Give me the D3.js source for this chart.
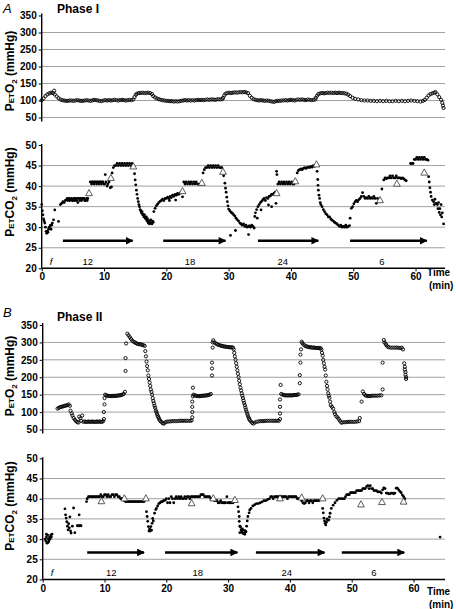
<!DOCTYPE html>
<html><head><meta charset="utf-8">
<script src="https://cdn.jsdelivr.net/npm/d3@7"></script>
<style>
html,body{margin:0;padding:0;background:#fff;}
svg{display:block;font-family:"Liberation Sans",Arial,sans-serif;}
</style></head>
<body><svg id="c" width="456" height="609"></svg>
<script>
// ---------- DATA (time in min, value in mmHg) as flat [t,v,t,v,...] lists ----------
const timeTicks = [0,10,20,30,40,50,60];
const o2Ticks = [50,100,150,200,250,300,350];
const co2Ticks = [20,25,30,35,40,45,50];
const rateLabels = ["12","18","24","6"];
const rateLabelTimesA = [7.4,23.8,38.7,54.6];
const rateLabelTimesB = [11.1,25.1,39.5,53.6];
const arrowsA = [[3.4,14.6],[19.5,29.5],[34.7,44.4],[49.5,61.8]];
const arrowsB = [[7.2,16.4],[19.8,31.5],[34.5,45.6],[48.4,58.5]];

const petO2_phase1 = [0,101,0.3,106,0.6,113,0.9,118,1.2,121,1.5,123,1.8,122,2.0,129,2.1,118,2.4,112,2.7,107,3.0,103,3.3,101,3.6,100,3.9,99,4.2,99,4.5,100,4.8,100,5.1,99,5.4,100,5.7,101,6.0,100,6.3,99,6.6,99,6.9,100,7.2,101,7.5,100,7.8,99,8.1,100,8.4,102,8.7,101,9.0,100,9.3,99,9.6,98,9.9,100,10.2,101,10.5,100,10.8,101,11.1,100,11.4,101,11.7,102,12.0,101,12.3,100,12.6,101,12.9,102,13.2,101,13.5,100,13.8,101,14.1,102,14.4,101,14.7,103,14.9,110,15.1,117,15.3,120,15.6,122,15.9,122,16.2,123,16.5,122,16.8,122,17.1,123,17.4,122,17.7,119,17.9,113,18.2,109,18.5,106,18.8,104,19.1,102,19.4,101,19.7,100,20.0,99,20.3,99,20.6,98,20.9,98,21.2,97,21.5,98,21.8,97,22.1,98,22.4,99,22.7,100,23.0,101,23.3,100,23.6,101,23.9,100,24.2,101,24.5,100,24.8,101,25.1,102,25.4,101,25.7,102,26.0,101,26.3,102,26.6,103,26.9,102,27.2,103,27.5,103,27.8,102,28.1,103,28.4,104,28.7,103,29.0,104,29.1,108,29.3,115,29.5,120,29.8,122,30.1,123,30.4,122,30.7,123,31.0,124,31.3,123,31.6,124,31.9,125,32.2,124,32.5,125,32.8,124,33.1,122,33.4,114,33.7,108,34.0,104,34.3,102,34.6,101,34.9,100,35.2,101,35.5,100,35.8,99,36.1,100,36.4,99,36.7,98,37.0,97,37.3,96,37.6,98,37.9,99,38.2,99,38.5,100,38.8,100,39.1,101,39.4,100,39.7,101,40.0,102,40.3,101,40.6,100,40.9,102,41.2,103,41.5,102,41.8,103,42.1,102,42.4,101,42.7,103,43.0,102,43.3,101,43.6,102,43.9,103,44.0,108,44.2,114,44.4,119,44.7,121,45.0,122,45.3,121,45.6,122,45.9,123,46.2,122,46.5,123,46.8,122,47.1,123,47.4,122,47.7,123,48.0,122,48.3,122,48.6,121,48.9,120,49.2,117,49.5,113,49.9,108,50.3,105,50.8,103,51.3,101,51.8,100,52.3,100,52.8,99,53.3,99,53.8,98,54.3,99,54.8,98,55.3,99,55.8,98,56.3,98,56.8,99,57.3,98,57.8,99,58.3,98,58.8,99,59.3,100,59.8,99,60.3,98,60.8,97,61.2,99,61.5,102,61.8,108,62.1,115,62.4,119,62.7,121,63.0,123,63.2,125,63.5,118,63.8,110,64.1,102,64.3,93,64.4,85,64.5,78];

const petCO2_phase1 = [0,35.5,0.1,34,0.2,33,0.3,32,0.4,31.5,0.5,31,0.6,30,0.7,29,0.8,28.5,0.9,29,1.0,28.8,1.1,29.5,1.2,30,1.3,29.8,1.4,30.5,1.5,29.5,1.6,30.5,1.7,31,1.9,31.8,2.1,34.2,2.7,31.4,
3.0,35.5,3.2,35.8,3.4,36.2,3.6,36,3.8,36.5,4.0,36.7,4.1,37,4.2,36.5,4.4,37,4.5,36.5,4.6,36.8,4.8,37,4.9,36.5,5.0,36.5,5.2,37,5.3,36.5,5.4,37,5.6,36.5,5.7,37,5.8,36,6.0,37,6.1,36.5,6.2,37,6.4,36.5,6.5,37,6.6,37,6.8,37,6.9,36.5,7.0,36.5,7.2,37,7.3,36.5,7.4,37,
7.8,41,8.0,40.5,8.1,41,8.2,41,8.4,40.5,8.5,41,8.6,41,8.8,40.5,8.9,41,9.0,41,9.2,40.5,9.3,41,9.4,41,9.6,40.5,9.7,41,9.8,41,10.0,40.5,10.1,40.5,10.2,42.8,10.3,41,10.5,40,10.6,40.5,10.8,41,11.0,39.6,11.2,39.8,
11.3,43.2,11.5,44.5,11.7,45,11.9,45,12.1,45.5,12.3,45,12.5,45.5,12.7,45,12.9,45.5,13.1,45,13.3,45.5,13.5,45,13.7,45.5,13.9,45,14.1,45.5,14.3,45,14.5,45.5,14.6,45,
14.9,43,15.0,41.5,15.1,40.3,15.2,39,15.3,38,15.4,37,15.5,36.2,15.6,35.5,15.7,35,15.8,34.3,15.9,34,16.0,33.5,16.1,33.8,16.2,33,16.3,33.2,16.4,32.5,16.5,33,16.6,32.3,16.7,32,16.8,32.5,16.9,31.5,17.0,32,17.1,31,17.2,31.5,17.3,30.8,17.4,31.2,17.5,31.8,17.6,31,17.7,30.8,17.8,31.5,17.9,31.2,
18.0,33.8,18.2,34.6,18.4,35.2,18.6,35.6,18.8,36,19.0,36.3,19.2,36.5,19.4,36.8,19.6,36.5,19.8,37,20.0,37,20.2,37.3,20.4,37,20.5,36.5,20.6,37.5,20.8,37.2,21.0,37.8,21.2,37.5,21.4,38,21.5,36.6,21.6,37.8,21.8,38.2,22.0,38,22.2,38.3,22.4,38.5,22.6,37.4,
22.8,41,23.0,40.5,23.2,41,23.4,40.5,23.6,41,23.8,40.5,24.0,41,24.2,40.5,24.4,41,24.6,40.5,24.8,41,25.0,40.5,25.2,40.5,25.4,40.5,
25.9,43.2,26.1,44,26.3,44.5,26.5,44.5,26.7,45,26.9,44.5,27.1,45,27.3,44.5,27.5,45,27.7,44.5,27.9,45,28.1,44.5,28.3,45,28.5,44.5,28.7,44.5,28.9,44.5,
29.2,42.5,29.4,40.7,29.5,39.5,29.6,38.5,29.7,37.3,29.8,36.2,29.9,35.2,30.0,34.4,30.2,34,30.3,28,30.4,33.6,30.6,33.4,30.8,33,31.0,32.7,31.1,29.2,31.2,32.2,31.4,31.8,31.6,31.5,31.8,31,32.0,30.8,32.2,30.5,32.4,30.8,32.6,30.2,32.8,30.5,33.0,30,33.2,28.2,33.3,30.3,33.5,30,33.7,30.5,33.9,30.2,34.1,29.8,
34.2,32.6,34.3,33.5,34.5,34.3,34.6,32.2,34.7,35,34.9,35.5,35.1,36,35.2,34.2,35.3,36.3,35.5,36.7,35.7,37,35.9,36.5,36.1,37.2,36.3,37,36.4,35.4,36.5,37.5,36.7,37.6,36.9,38,36.9,35,37.1,38,37.3,38.3,37.5,38.5,37.6,35.8,37.7,43.6,37.75,42.8,
37.9,40.5,38.1,41,38.3,40.5,38.5,41,38.7,40.5,38.9,41,39.1,40.5,39.3,41,39.5,40.5,39.7,41,39.9,40.5,40.1,41,40.3,40.5,40.5,40.5,
41.0,43.2,41.2,43.8,41.4,44,41.6,44.2,41.8,44,42.0,44.3,42.2,44.5,42.4,44.3,42.6,44.5,42.8,44.6,43.0,44.5,43.2,44.8,43.4,44.6,43.6,45,43.8,44.8,
44.2,43.6,44.3,41.6,44.35,40.2,44.4,39,44.5,37.8,44.6,37,44.7,36,44.8,35.5,45.0,35,45.2,34.3,45.4,33.8,45.6,33.3,45.8,33,46.0,32.5,46.2,32.5,46.4,32,46.6,31.7,46.8,31.5,47.0,31.2,47.2,31,47.4,30.8,47.6,30.5,47.8,30.2,48.0,30.5,48.2,30,48.4,30.2,48.6,30,48.8,30.5,49.0,30,49.2,30.2,49.4,30.4,
49.5,32.2,49.7,34.6,49.9,35,50.1,35.7,50.3,36.2,50.5,36.5,50.7,36.2,50.9,36.7,51.1,37,51.3,37.5,51.5,38.4,51.7,37.5,51.9,37,52.1,37.2,52.3,37,52.5,37.5,52.7,37,52.9,37.2,53.1,37,53.3,37.5,53.5,37,53.7,35.8,53.9,37,
54.6,39.3,54.9,41.5,55.1,42,55.3,41.8,55.5,42,55.7,42,55.9,42.5,56.1,42,56.3,42.5,56.5,42,56.7,42,56.9,42.5,57.1,42,57.3,42,57.5,42,57.7,41.8,57.9,42,58.1,41.8,58.3,41.5,58.5,41.3,
59.2,45.5,59.4,45.5,59.6,45.5,59.8,46.5,60.0,46.5,60.2,47,60.4,46.5,60.6,47,60.8,46.5,61.0,47,61.2,46.5,61.4,47,61.6,46.5,61.8,46.5,62.0,46.3,
62.1,42.3,62.2,41,62.3,39.6,62.4,38.5,62.5,37.5,62.7,36.6,62.9,36.2,63.0,35.5,63.1,36.8,63.3,35.8,63.5,35.5,63.6,34.5,63.7,36,63.8,33.6,63.9,34.5,64.0,33,64.1,35.5,64.2,32.5,64.3,33.5,64.5,30.8];

const probes_phase1 = [7.6,38.3,11.1,42,14.7,44.8,22.6,38.8,25.7,40.8,29.1,43.5,37.7,38.3,40.7,41.2,44.1,45.3,54.3,36.6,57.0,40.6,61.4,43.3];

const petO2_phase2 = [2.4,110,2.6,112,2.8,114,3.0,115,3.2,116,3.4,117,3.6,118,3.8,119,4.0,120,4.2,122,4.4,118,4.5,104,4.7,96,4.8,90,5.0,83,5.2,78,5.4,74,5.6,71,5.8,70,5.9,87,6.1,82,6.2,75,6.4,90,6.6,72,6.8,73,7.0,72,7.2,72,7.4,73,7.6,72,7.8,72,8.0,73,8.2,72,8.4,72,8.6,72,8.8,73,9.0,72,9.2,73,9.4,72,9.6,72,9.8,74,
9.9,80,9.9,100,10.0,122,10.0,140,10.1,150,10.3,148,10.5,147,10.7,146,10.9,146,11.1,146,11.3,146,11.5,147,11.7,146,11.9,147,12.1,147,12.3,148,12.5,148,12.7,149,12.9,150,13.1,152,13.3,158,
13.4,218,13.4,255,13.5,297,13.7,325,13.9,320,14.1,315,14.3,310,14.5,305,14.7,302,14.9,300,15.1,298,15.3,296,15.5,295,15.7,295,15.9,294,16.1,293,16.3,292,
16.5,290,16.6,275,16.7,260,16.8,245,16.9,232,17.0,220,17.1,205,17.2,195,17.3,185,17.4,175,17.5,165,17.6,158,17.7,150,17.8,140,17.9,132,18.0,125,18.1,118,18.2,112,18.3,105,18.4,100,18.5,95,18.6,90,18.7,86,18.8,82,18.9,78,19.0,75,19.2,72,19.4,68,19.6,67,19.8,70,
20.0,72,20.3,73,20.6,73,20.9,74,21.2,74,21.5,74,21.8,74,22.1,75,22.4,75,22.7,75,23.0,75,23.3,75,23.6,75,23.9,75,24.1,76,
24.2,85,24.2,100,24.2,115,24.2,130,24.3,145,24.3,170,24.4,150,24.6,148,24.8,147,25.0,146,25.2,146,25.4,146,25.6,146,25.8,147,26.0,147,26.2,147,26.4,148,26.6,148,26.8,149,27.0,150,27.2,152,
27.4,205,27.4,225,27.4,242,27.5,285,27.5,300,27.6,306,27.8,300,28.0,297,28.2,295,28.4,293,28.6,292,28.8,291,29.0,290,29.2,289,29.4,288,29.6,288,29.8,287,30.0,287,30.2,286,30.4,286,30.6,286,30.8,285,
30.9,280,31.0,270,31.1,260,31.2,250,31.3,240,31.4,230,31.5,220,31.6,210,31.7,200,31.8,190,31.9,180,32.0,170,32.1,162,32.2,154,32.3,147,32.4,140,32.5,133,32.6,126,32.7,120,32.8,113,32.9,107,33.0,101,33.1,95,33.2,90,33.3,85,33.4,81,33.5,77,33.7,73,33.9,69,34.1,67,
34.3,70,34.6,72,34.9,73,35.2,74,35.5,74,35.8,74,36.1,75,36.4,75,36.7,75,37.0,75,37.3,75,37.6,75,37.9,75,38.2,75,
38.4,80,38.4,96,38.4,115,38.4,136,38.5,178,38.6,152,38.8,150,39.0,149,39.2,148,39.4,148,39.6,148,39.8,148,40.0,148,40.2,148,40.4,148,40.6,149,40.8,149,41.0,149,41.2,150,41.4,151,
41.6,183,41.6,206,41.7,242,41.7,265,41.8,280,41.9,302,42.0,298,42.2,294,42.4,291,42.6,289,42.8,288,43.0,287,43.2,286,43.4,286,43.6,285,43.8,285,44.0,285,44.2,284,44.4,284,44.6,284,44.8,284,45.0,283,
45.1,279,45.2,270,45.3,262,45.4,250,45.5,240,45.6,230,45.7,222,45.8,205,45.9,187,46.0,175,46.1,165,46.2,154,46.3,147,46.4,141,46.5,130,46.6,120,46.8,115,47.0,110,47.2,100,47.3,94,47.5,88,47.7,85,47.9,80,48.1,75,48.3,70,
48.5,70,48.8,71,49.1,71,49.4,72,49.7,72,50.0,72,50.3,72,50.6,72,50.9,73,51.2,74,51.3,83,
51.6,130,51.8,159,52.0,152,52.2,148,52.4,147,52.6,146,52.8,146,53.0,146,53.3,147,53.6,147,53.9,147,54.2,147,54.5,148,54.8,148,55.0,165,
55.0,242,55.2,307,55.3,300,55.5,296,55.6,292,55.8,288,56.0,286,56.3,285,56.6,285,56.9,285,57.2,285,57.5,285,57.8,284,58.1,285,58.3,280,
58.5,240,58.6,230,58.6,222,58.7,215,58.7,207,58.8,200,58.8,195];

const petCO2_phase2 = [0.4,30,0.5,29.5,0.6,30.5,0.6,31.2,0.7,29,0.8,31,0.9,30,0.9,29.2,1.0,29.5,1.1,30.5,1.2,30,1.3,31,1.4,30.5,1.5,31.2,
3.6,37.5,3.7,36,3.8,35.2,3.9,34.3,4.0,33.2,4.1,32.3,4.2,33.8,4.3,32.8,4.4,35.5,4.5,32,4.6,31.5,4.8,33.2,5.0,37.7,5.2,31.6,5.6,33.3,5.8,33.3,5.9,36,6.0,33.3,6.2,33.3,
7.1,39.3,7.2,40,7.4,40.5,7.6,40.5,7.8,40.5,8.0,40.5,8.2,40.5,8.4,40.5,8.6,40.5,8.8,40.5,9.0,40.5,9.2,40.5,9.4,41,9.6,40.5,9.8,40.5,10.0,41,10.2,41,10.4,40.5,10.6,41,10.8,40.5,11.0,40.5,11.2,41,11.4,41,11.6,40.5,11.8,41,12.0,41,12.2,40.5,12.4,40.5,12.6,40,12.8,40,13.0,40,13.2,39.5,
13.4,39.3,13.6,39.3,13.8,39.3,14.0,39.3,14.2,39.3,14.4,39.3,14.6,39.3,14.8,39.3,15.0,39.3,15.2,39.3,15.4,39.3,15.6,39.3,15.8,39.3,16.0,39.3,16.2,39.3,16.4,39.3,
16.8,36.8,16.9,35.6,17.0,34.4,17.1,33.1,17.2,32,17.3,32.5,17.4,32,17.5,33.1,17.6,32.2,17.7,33.9,17.8,35.1,17.9,34.5,18.1,36.4,18.3,37.3,18.4,37.6,18.6,38.2,18.8,38.8,19.0,39,19.2,39.3,19.4,39.3,19.6,39.6,
19.8,39.6,20.0,40,20.2,39,20.4,40,20.6,39,20.8,40.5,21.0,40,21.2,39,21.4,40,21.6,40.5,21.8,40,22.0,40.5,22.2,40,22.4,40.5,22.6,40,22.8,40,23.0,40.5,23.2,40,23.4,40.5,23.6,40.5,23.8,40,24.0,40.5,24.2,40.5,24.4,40.5,24.6,40.5,24.8,40.5,25.0,40.5,25.2,40.5,25.4,40.5,25.6,41,25.8,41,26.0,41,26.2,40.5,26.4,40.5,26.6,40.5,26.8,40.5,27.0,40.5,27.2,40,27.4,40,
27.8,39.5,28.0,39.5,28.2,39.5,28.4,39,28.6,39,28.8,39.5,29.0,39,29.2,39,29.4,39,29.6,39,29.8,40.5,30.0,39,30.2,39,30.4,39,30.6,39,30.8,39,
31.6,38,31.7,36.8,31.8,35.6,31.8,34.4,31.9,33.2,31.9,31.6,32.0,33,32.1,32.3,32.2,31.8,32.3,32.5,32.4,31.4,32.5,32.2,32.6,31.5,32.7,31.2,32.8,32,32.9,31.8,33.0,33.2,33.1,34.5,33.2,35.6,33.4,36.5,33.5,37.2,33.7,37.6,34.0,38.2,34.3,38.5,34.6,38.8,34.9,38.8,35.2,39,35.5,39.2,35.8,39.5,36.1,39.5,36.4,39.8,36.7,40,
36.9,40.5,37.1,40.5,37.3,40,37.5,40.5,37.7,40.5,37.9,40.5,38.1,40.5,38.3,40.5,38.6,40.5,38.8,40.5,39.0,40.5,39.2,40.5,39.4,40.5,39.6,40,39.8,40.5,40.0,40.5,40.2,40.5,40.4,40.5,40.6,40.5,40.8,40.5,41.0,40.5,41.2,40,41.4,40,41.6,40,
41.9,39.5,42.1,39,42.3,38.8,42.5,39,42.7,39.5,42.9,39.5,43.1,39,43.3,39.5,43.5,39.5,43.7,39,43.9,39.5,44.1,39.5,44.3,39.5,44.5,39.5,44.7,39.5,
45.3,37.6,45.4,36.5,45.5,35.2,45.6,34.5,45.7,33.9,45.8,33.5,45.9,34.2,46.0,35,46.1,34.7,46.3,34.7,46.4,35.5,46.5,36.4,46.7,37.6,47.0,38.4,47.3,39,47.6,39.6,47.9,40,48.2,40,48.5,40,48.8,40,
49.0,40.5,49.2,41,49.4,41,49.6,41,49.8,41.5,50.0,41.5,50.2,41.5,50.4,41.5,50.6,41.5,50.8,42,51.0,42,51.2,42,51.4,42,51.6,42,51.8,42.5,52.0,42.5,52.2,42.5,52.4,43,52.6,43.2,52.8,42.5,53.0,43.2,53.2,42.5,53.4,42.5,53.6,42,53.8,42,54.0,42,54.2,41.7,54.4,41.7,54.6,41.7,54.8,41.4,55.0,42.2,55.2,42.7,55.4,42.5,55.6,41.4,55.8,41.4,56.0,41.2,56.2,41.2,56.4,41.4,56.6,41.4,56.8,41.2,57.0,41.4,57.2,42.6,57.4,42.6,57.6,42.2,57.8,41.8,58.0,41.5,58.2,40.9,58.4,40.5,58.6,40,
64.3,30.5];

const probes_phase2 = [9.5,39.4,13.2,40.1,16.7,40.1,24.1,38.9,27.6,40.1,31.1,39.7,38.4,40.1,41.9,40.3,45.3,40.1,51.5,38.6,54.9,39.2,58.4,39.3];

// ---------- helpers ----------
const pairs = a => { const r=[]; for(let i=0;i<a.length;i+=2) r.push([a[i],a[i+1]]); return r; };
const svg = d3.select("#c");
const FONT = "'Liberation Sans', Arial, sans-serif";

svg.append("defs").append("marker")
  .attr("id","ah").attr("viewBox","0 0 10 10").attr("refX",9).attr("refY",5)
  .attr("markerWidth",3.4).attr("markerHeight",3.2).attr("orient","auto")
  .attr("markerUnits","strokeWidth")
  .append("path").attr("d","M0,0 L10,5 L0,10 Z").attr("fill","#000");

function yTitle(g, cx, cy, co2){
  const t = g.append("text").attr("transform",`translate(${cx},${cy}) rotate(-90)`)
    .attr("text-anchor","middle").attr("font-family",FONT).attr("font-weight","bold")
    .attr("font-size",12).attr("fill","#000");
  t.append("tspan").text("P");
  t.append("tspan").attr("font-size",8).text("ET");
  t.append("tspan").text(co2 ? "CO" : "O");
  t.append("tspan").attr("font-size",8).attr("dy",3).text("2");
  t.append("tspan").attr("dy",-3).text(" (mmHg)");
}

function o2Panel(x, y, data, titleY){
  const g = svg.append("g");
  g.selectAll("line.grid").data(o2Ticks.filter(d=>d<350)).join("line")
    .attr("x1",x(0)).attr("x2",445).attr("y1",d=>y(d)).attr("y2",d=>y(d))
    .attr("stroke","#a0a0a0").attr("stroke-width",1);
  const ax = d3.axisLeft(y).tickValues(o2Ticks).tickSize(3).tickPadding(2);
  const a = g.append("g").attr("transform",`translate(${x(0)},0)`).call(ax);
  a.select(".domain").remove();
  a.selectAll("text").attr("font-family",FONT).attr("font-weight","bold").attr("font-size",10).attr("fill","#000");
  a.selectAll("line").attr("stroke","#000");
  g.append("line").attr("x1",x(0)).attr("x2",x(0)).attr("y1",y(350)-2).attr("y2",y(50)+4)
    .attr("stroke","#000").attr("stroke-width",1.4);
  g.append("g").selectAll("circle").data(pairs(data)).join("circle")
    .attr("cx",d=>x(d[0])).attr("cy",d=>y(d[1])).attr("r",1.6)
    .attr("fill","none").attr("stroke","#000").attr("stroke-width",0.9);
  yTitle(g, 14, titleY, false);
}

function co2Panel(x, y, data, probes, arrows, labelTimes, timeY){
  const g = svg.append("g");
  g.selectAll("line.grid").data(co2Ticks.filter(d=>d>20 && d<50)).join("line")
    .attr("x1",x(0)).attr("x2",445).attr("y1",d=>y(d)).attr("y2",d=>y(d))
    .attr("stroke","#a0a0a0").attr("stroke-width",1);
  const ay = d3.axisLeft(y).tickValues(co2Ticks).tickSize(3).tickPadding(2);
  const a = g.append("g").attr("transform",`translate(${x(0)},0)`).call(ay);
  a.select(".domain").remove();
  a.selectAll("text").attr("font-family",FONT).attr("font-weight","bold").attr("font-size",10).attr("fill","#000");
  a.selectAll("line").attr("stroke","#000");
  const axx = d3.axisBottom(x).tickValues(timeTicks).tickSize(3).tickPadding(2);
  const b = g.append("g").attr("transform",`translate(0,${y(20)})`).call(axx);
  b.select(".domain").remove();
  b.selectAll("text").attr("font-family",FONT).attr("font-weight","bold").attr("font-size",10).attr("fill","#000");
  b.selectAll("line").attr("stroke","#000");
  g.append("line").attr("x1",x(0)).attr("x2",x(0)).attr("y1",y(50)-1).attr("y2",y(20))
    .attr("stroke","#000").attr("stroke-width",1.4);
  g.append("line").attr("x1",x(0)).attr("x2",445).attr("y1",y(20)).attr("y2",y(20))
    .attr("stroke","#000").attr("stroke-width",1.4);
  g.append("g").selectAll("circle").data(pairs(data)).join("circle")
    .attr("cx",d=>x(d[0])).attr("cy",d=>y(d[1])).attr("r",1.4).attr("fill","#000");
  g.append("g").selectAll("path").data(pairs(probes)).join("path")
    .attr("d",d=>{const px=x(d[0]), py=y(d[1]); return `M${px},${py-3.6}L${px+3.4},${py+2.6}L${px-3.4},${py+2.6}Z`;})
    .attr("fill","#fff").attr("stroke","#333").attr("stroke-width",0.8);
  const arrowY = y(26.7);
  g.append("g").selectAll("line").data(arrows).join("line")
    .attr("x1",d=>x(d[0])).attr("x2",d=>x(d[1])).attr("y1",arrowY).attr("y2",arrowY)
    .attr("stroke","#000").attr("stroke-width",2.4).attr("marker-end","url(#ah)");
  g.append("g").selectAll("text").data(rateLabels).join("text")
    .attr("x",(d,i)=>x(labelTimes[i])).attr("y",y(21.7)+3.5).attr("text-anchor","middle")
    .attr("font-family",FONT).attr("font-size",9.5).attr("fill","#000").text(d=>d);
  g.append("text").attr("x",x(1.5)).attr("y",y(21.7)+3.5).attr("text-anchor","middle")
    .attr("font-family",FONT).attr("font-style","italic").attr("font-size",9.5).text("f");
  g.append("text").attr("x",427).attr("y",timeY).attr("font-family",FONT).attr("font-weight","bold")
    .attr("font-size",10).text("Time");
  g.append("text").attr("x",429).attr("y",timeY+13).attr("font-family",FONT).attr("font-weight","bold")
    .attr("font-size",10).text("(min)");
  return g;
}

// ---------- Panel A ----------
const xA = d3.scaleLinear().domain([0,65]).range([41.7,446.7]);
const yAo2 = d3.scaleLinear().domain([50,350]).range([117.5,15.5]);
const yAco2 = d3.scaleLinear().domain([20,50]).range([268.3,145]);
o2Panel(xA, yAo2, petO2_phase1, 71);
const gA = co2Panel(xA, yAco2, petCO2_phase1, probes_phase1, arrowsA, rateLabelTimesA, 276);
yTitle(gA, 14, 192, true);

// ---------- Panel B ----------
const xB = d3.scaleLinear().domain([0,65]).range([42.7,444.4]);
const yBo2 = d3.scaleLinear().domain([50,350]).range([429.5,325]);
const yBco2 = d3.scaleLinear().domain([20,50]).range([579.5,458.3]);
o2Panel(xB, yBo2, petO2_phase2, 376);
const gB = co2Panel(xB, yBco2, petCO2_phase2, probes_phase2, arrowsB, rateLabelTimesB, 595);
yTitle(gB, 14, 506, true);

// headings
svg.append("text").attr("x",3).attr("y",13).attr("font-family",FONT).attr("font-style","italic")
  .attr("font-size",13).text("A");
svg.append("text").attr("x",57).attr("y",13).attr("font-family",FONT).attr("font-weight","bold")
  .attr("font-size",12).text("Phase I");
svg.append("text").attr("x",3).attr("y",317).attr("font-family",FONT).attr("font-style","italic")
  .attr("font-size",13).text("B");
svg.append("text").attr("x",57).attr("y",321).attr("font-family",FONT).attr("font-weight","bold")
  .attr("font-size",12).text("Phase II");
</script></body></html>
